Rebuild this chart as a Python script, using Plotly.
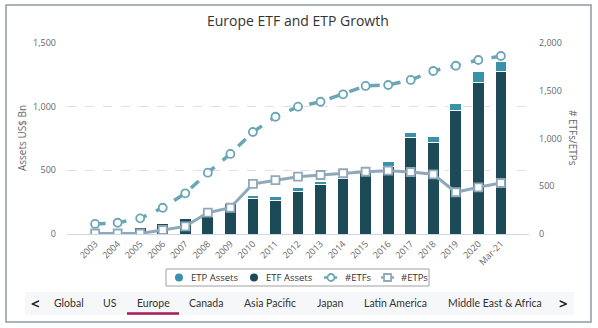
import plotly.graph_objects as go

categories = ["2003","2004","2005","2006","2007","2008","2009","2010","2011","2012",
              "2013","2014","2015","2016","2017","2018","2019","2020","Mar-21"]
etf_assets = [2, 8, 49, 84, 123, 136, 236, 280, 267, 330, 390, 432, 480, 534, 759, 717, 968, 1191, 1275]
etp_assets = [0, 0, 1, 1, 2, 3, 4, 26, 31, 34, 26, 18, 12, 39, 37, 47, 58, 89, 78]
n_etfs = [105, 118, 164, 275, 426, 642, 838, 1068, 1228, 1333, 1385, 1463, 1550, 1560, 1613, 1707, 1762, 1822, 1864]
n_etps = [5, 5, 5, 42, 80, 223, 275, 524, 565, 600, 618, 636, 652, 663, 649, 625, 437, 489, 534]
tabs = ["Global", "US", "Europe", "Canada", "Asia Pacific", "Japan", "Latin America", "Middle East & Africa"]
tab_x = [69, 110, 153, 206, 270, 330, 395, 495]

W, H = 598, 328
L, R, T, B = 67, 529, 43, 234

def px(x):
    return (x - L) / (R - L)

def py(y):
    return (B - y) / (B - T)

FONT = "Open Sans"
C_ETF = "#1d4a57"
C_ETP = "#3a92aa"
C_NETF = "#6aa6b5"
C_NETP = "#8fa9bb"

fig = go.Figure()
fig.add_trace(go.Bar(x=categories, y=etf_assets, name="ETF Assets", marker=dict(color=C_ETF, line=dict(color="white", width=1))))
fig.add_trace(go.Bar(x=categories, y=etp_assets, name="ETP Assets", marker=dict(color=C_ETP, line=dict(color="white", width=1))))
fig.add_trace(go.Scatter(x=categories, y=n_etfs, name="#ETFs", yaxis="y2", mode="lines+markers",
                         line=dict(color=C_NETF, width=3.5, dash="dash"),
                         marker=dict(symbol="circle", size=8, color="white", line=dict(color=C_NETF, width=1.8))))
fig.add_trace(go.Scatter(x=categories, y=n_etps, name="#ETPs", yaxis="y2", mode="lines+markers",
                         line=dict(color=C_NETP, width=3),
                         marker=dict(symbol="square", size=8, color="white", line=dict(color=C_NETP, width=1.8))))

def prect(x0, x1, y0, y1, **kw):
    return dict(type="rect", xref="paper", yref="paper", x0=px(x0), x1=px(x1), y0=py(y1), y1=py(y0), **kw)

shapes = [
    prect(6, 591, 5, 322, line=dict(color="#8c9ba4", width=1.5), fillcolor="rgba(0,0,0,0)", layer="below"),
    prect(25, 574, 292, 315, line=dict(width=0), fillcolor="#f6f7f8", layer="below"),
    dict(type="line", xref="paper", yref="paper", x0=px(127), x1=px(179), y0=py(313.5), y1=py(313.5),
         line=dict(color="#a3195b", width=2.5)),
    # legend box
    prect(166, 429, 269, 286, line=dict(color="#a0a0a0", width=1), fillcolor="white"),
    dict(type="circle", xref="paper", yref="paper", x0=px(175), x1=px(183), y0=py(281.5), y1=py(273.5),
         line=dict(width=0), fillcolor=C_ETP),
    dict(type="circle", xref="paper", yref="paper", x0=px(250), x1=px(258), y0=py(281.5), y1=py(273.5),
         line=dict(width=0), fillcolor=C_ETF),
    dict(type="line", xref="paper", yref="paper", x0=px(324), x1=px(337), y0=py(277.5), y1=py(277.5),
         line=dict(color=C_NETF, width=2.5)),
    dict(type="circle", xref="paper", yref="paper", x0=px(327.5), x1=px(334.5), y0=py(281), y1=py(274),
         line=dict(color=C_NETF, width=1.8), fillcolor="white"),
    dict(type="line", xref="paper", yref="paper", x0=px(381), x1=px(394), y0=py(277.5), y1=py(277.5),
         line=dict(color=C_NETP, width=2.5)),
    prect(384, 391, 274, 281, line=dict(color=C_NETP, width=1.8), fillcolor="white"),
]

annotations = [
    dict(text="Europe ETF and ETP Growth", x=px(298), y=py(20), xref="paper", yref="paper", showarrow=False,
         font=dict(family=FONT, size=14, color="#333333"), xanchor="center", yanchor="middle"),
    dict(text="Assets US$ Bn", x=px(22), y=py(138), xref="paper", yref="paper", showarrow=False, textangle=-90,
         font=dict(family=FONT, size=10, color="#666666"), xanchor="center", yanchor="middle"),
    dict(text="# ETFs/ETPs", x=px(573), y=py(138), xref="paper", yref="paper", showarrow=False, textangle=90,
         font=dict(family=FONT, size=10, color="#666666"), xanchor="center", yanchor="middle"),
    dict(text="<b>&lt;</b>", x=px(35), y=py(303), xref="paper", yref="paper", showarrow=False,
         font=dict(family=FONT, size=15, color="#222222"), xanchor="center", yanchor="middle"),
    dict(text="<b>&gt;</b>", x=px(563), y=py(303), xref="paper", yref="paper", showarrow=False,
         font=dict(family=FONT, size=15, color="#222222"), xanchor="center", yanchor="middle"),
]
legend_items = [("ETP Assets", 189), ("ETF Assets", 264), ("#ETFs", 343), ("#ETPs", 399)]
for t, x in legend_items:
    annotations.append(dict(text=t, x=px(x), y=py(277.5), xref="paper", yref="paper", showarrow=False,
                            font=dict(family=FONT, size=9.5, color="#333333"), xanchor="left", yanchor="middle"))
for t, x in zip(tabs, tab_x):
    annotations.append(dict(text=t, x=px(x), y=py(303), xref="paper", yref="paper", showarrow=False,
                            font=dict(family="Lato", size=10.5, color="#333333"), xanchor="center", yanchor="middle"))

fig.update_layout(
    width=W, height=H, autosize=False,
    margin=dict(l=L, r=W - R, t=T, b=H - B, pad=0),
    paper_bgcolor="white", plot_bgcolor="white",
    barmode="stack", bargap=0.48,
    showlegend=False,
    xaxis=dict(tickangle=-45, tickfont=dict(family=FONT, size=9, color="#666666"),
               showline=True, linecolor="#ccd6eb", linewidth=1, ticks="", showgrid=False),
    yaxis=dict(range=[0, 1500], tickvals=[0, 500, 1000, 1500], tickformat=",",
               tickfont=dict(family=FONT, size=9, color="#666666"), ticklabelstandoff=10,
               showgrid=True, gridcolor="#e0e0e0", griddash="dash", zeroline=False),
    yaxis2=dict(range=[0, 2000], tickvals=[0, 500, 1000, 1500, 2000], tickformat=",",
                overlaying="y", side="right", showgrid=False, zeroline=False, ticklabelstandoff=9,
                tickfont=dict(family=FONT, size=9, color="#666666")),
    shapes=shapes, annotations=annotations,
)
fig.write_html("out.html")
